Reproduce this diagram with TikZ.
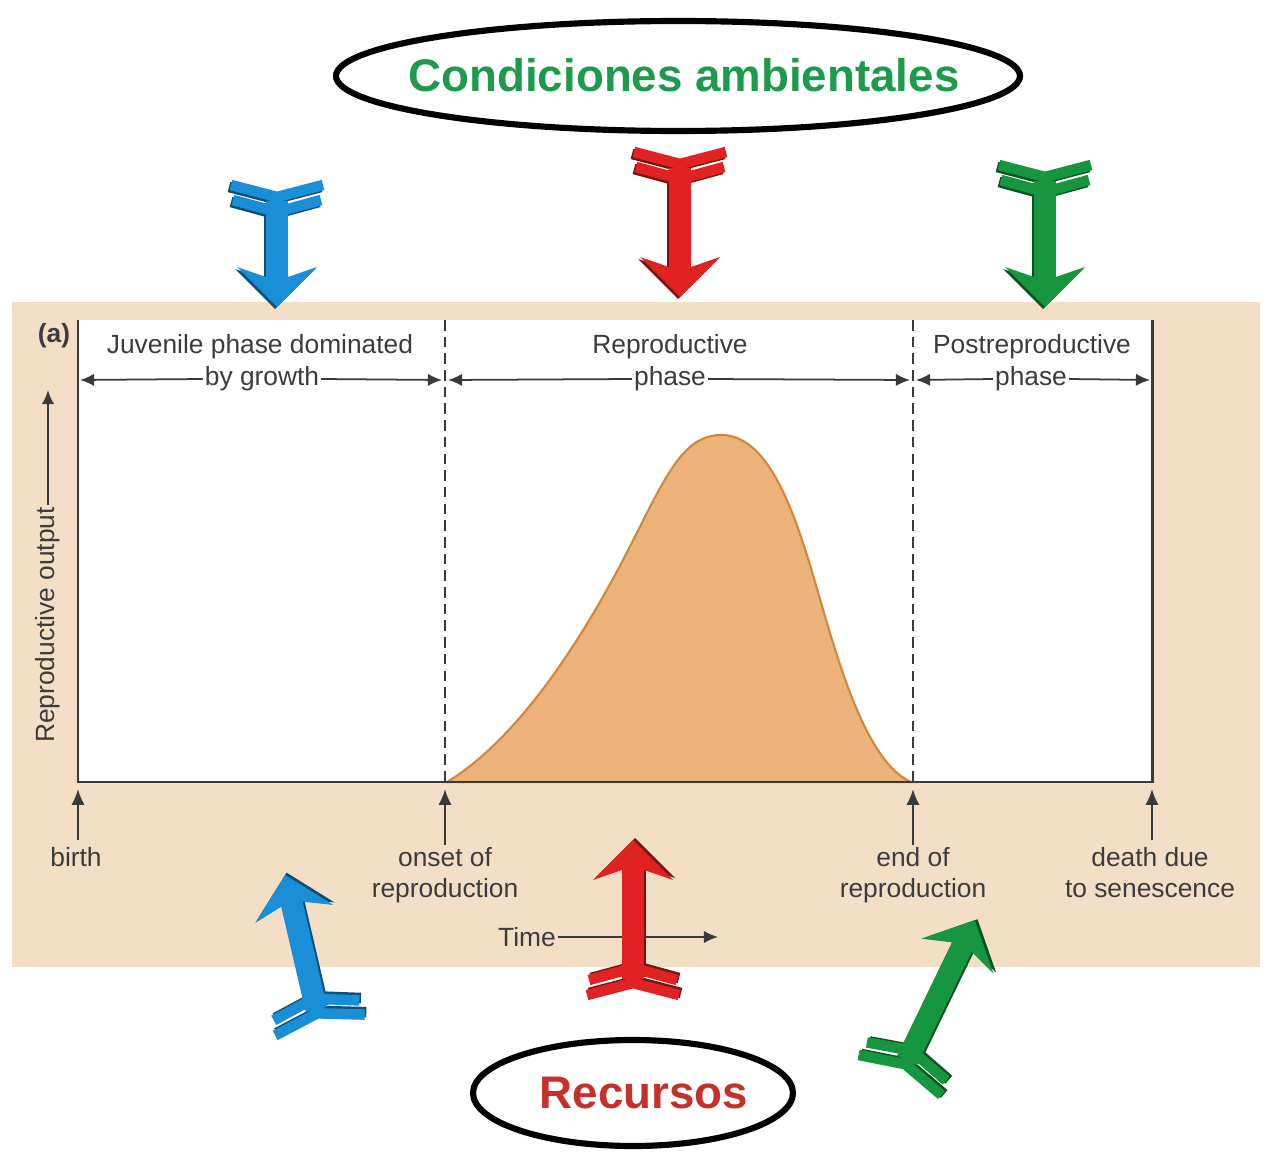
\documentclass[tikz,border=0pt]{standalone}
\usepackage{fontspec}
\setmainfont{Liberation Sans}
\usepackage{xcolor}
\usetikzlibrary{shapes.geometric, positioning, calc, arrows.meta}
\definecolor{lhbeige}{HTML}{F3DFC6}
\definecolor{lhaxis}{HTML}{3A3A3A}
\definecolor{lhtext}{HTML}{3C3C3C}
\definecolor{lhcurve}{HTML}{EBB27A}
\definecolor{lhcurvedge}{HTML}{D2873A}
\definecolor{lhblue}{HTML}{1A8FD8}
\definecolor{lhred}{HTML}{E02222}
\definecolor{lhgreen}{HTML}{16963E}
\definecolor{lhtitle}{HTML}{1E9A4C}
\definecolor{lhres}{HTML}{C4302A}

\newcommand{\fletchbody}[2]{% #1 colour, #2 length
  \fill[#1] (16,-11) rectangle (#2-27,11);
  \fill[#1] (#2-30,-11) -- (#2-40,-40) -- (#2,0) -- (#2-40,40) -- (#2-30,11) -- cycle;
  \draw[#1, line width=6pt, line join=miter] (0,-46) -- (12,0) -- (0,46);
  \draw[#1, line width=6pt, line join=miter] (15,-44) -- (27,0) -- (15,44);
}

\tikzset{
  lbl/.style={font=\fontsize{15}{17.6}\selectfont, text=lhtext, align=center, inner sep=1pt},
  ax/.style={draw=lhaxis, line width=1.7pt},
  divider/.style={draw=lhaxis, line width=1.2pt, dash pattern=on 6pt off 3.5pt},
  tick/.style={draw=lhaxis, line width=1.1pt, -{Latex[length=9pt,width=7.5pt]}},
  span/.style={draw=lhaxis, line width=1pt, -{Latex[length=8pt,width=7pt]}},
  factor/.style={font=\fontsize{26}{30}\selectfont\bfseries, inner sep=2pt},
  ring/.style={draw=black, line width=3.5pt},
  pics/fletch/.style args={#1/#2}{code={
    \begin{scope}[shift={(2,2)}]\fletchbody{#1!55!black}{#2}\end{scope}
    \fletchbody{#1}{#2}
  }}
}

\begin{document}
\begin{tikzpicture}[x=0.02cm, y=-0.02cm]
  \useasboundingbox (0,0) rectangle (1268,1152);
  \fill[white] (0,0) rectangle (1268,1152);
  \fill[lhbeige] (12,302) rectangle (1260,967);
  \fill[white] (78,320) rectangle (1152,782);

  % time axis points
  \coordinate (birth) at (78,782);
  \coordinate (onset) at (445,782);
  \coordinate (stop) at (913,782);
  \coordinate (death) at (1152,782);

  % reproductive curve
  \filldraw[fill=lhcurve, draw=lhcurvedge, line width=1.2pt]
    (447,782) .. controls (500,750) and (560,680) .. (623,560)
    .. controls (663,483) and (680,436) .. (720,435)
    .. controls (765,434) and (790,500) .. (810,565)
    .. controls (830,630) and (860,760) .. (911,782) -- cycle;

  % frame and phase dividers
  \draw[ax] (78,320) -- (birth) -- (death) -- (1152,320);
  \draw[divider] (445,320) -- (onset);
  \draw[divider] (913,320) -- (stop);

  % phase labels
  \node[lbl, font=\fontsize{15}{17.6}\selectfont\bfseries] (tag) at (54,336) {(a)};
  \node[lbl] (juv) at (260,347) {Juvenile phase dominated};
  \node[lbl] (growth) at (262,379) {by growth};
  \node[lbl] (rep) at (670,347) {Reproductive};
  \node[lbl] (repph) at (670,379) {phase};
  \node[lbl] (post) at (1032,347) {Postreproductive};
  \node[lbl] (postph) at (1031,379) {phase};
  \coordinate (juvL) at (80,380);
  \coordinate (juvR) at (442,380);
  \coordinate (repL) at (448,380);
  \coordinate (repR) at (910,380);
  \coordinate (postL) at (916,380);
  \coordinate (postR) at (1150,380);
  \draw[span] (growth.west) -- (juvL);
  \draw[span] (growth.east) -- (juvR);
  \draw[span] (repph.west) -- (repL);
  \draw[span] (repph.east) -- (repR);
  \draw[span] (postph.west) -- (postL);
  \draw[span] (postph.east) -- (postR);

  % output axis label
  \node[lbl, rotate=90] (yout) at (48,625) {Reproductive output};
  \coordinate (ytop) at (48,390);
  \draw[span] (yout.east) -- (ytop);

  % events along time
  \node[lbl, anchor=north] (birthlbl) at (76,845) {birth};
  \node[lbl, anchor=north] (onsetlbl) at (445,845) {onset of\\reproduction};
  \node[lbl, anchor=north] (stoplbl) at (913,845) {end of\\reproduction};
  \node[lbl, anchor=north] (deathlbl) at (1150,845) {death due\\to senescence};
  \draw[tick, shorten >=4pt] (78,840) -- (birth);
  \draw[tick, shorten >=4pt] (onsetlbl.north) -- (onset);
  \draw[tick, shorten >=4pt] (stoplbl.north) -- (stop);
  \draw[tick, shorten >=4pt] (1152,840) -- (death);

  \node[lbl] (time) at (527,937) {Time};
  \coordinate (timeR) at (718,937);
  \draw[span] (time.east) -- (timeR);

  % environment and resources
  \node[factor, text=lhtitle] (amb) at (684,75) {Condiciones ambientales};
  \draw[ring] (678,76) ellipse [x radius=342, y radius=55];
  \node[factor, text=lhres] (res) at (644,1093) {Recursos};
  \draw[ring] (633,1093) ellipse [x radius=160, y radius=53];

  % influence arrows
  \pic[rotate=-90] at (277,185) {fletch={lhblue/122}};
  \pic[rotate=-90] at (680,152) {fletch={lhred/145}};
  \pic[rotate=-90] at (1045,165) {fletch={lhgreen/142}};
  \pic[rotate=103.1] at (320,1025) {fletch={lhblue/154}};
  \pic[rotate=90] at (633,995) {fletch={lhred/155}};
  \pic[rotate=64.2] at (900,1075) {fletch={lhgreen/172}};
\end{tikzpicture}
\end{document}
